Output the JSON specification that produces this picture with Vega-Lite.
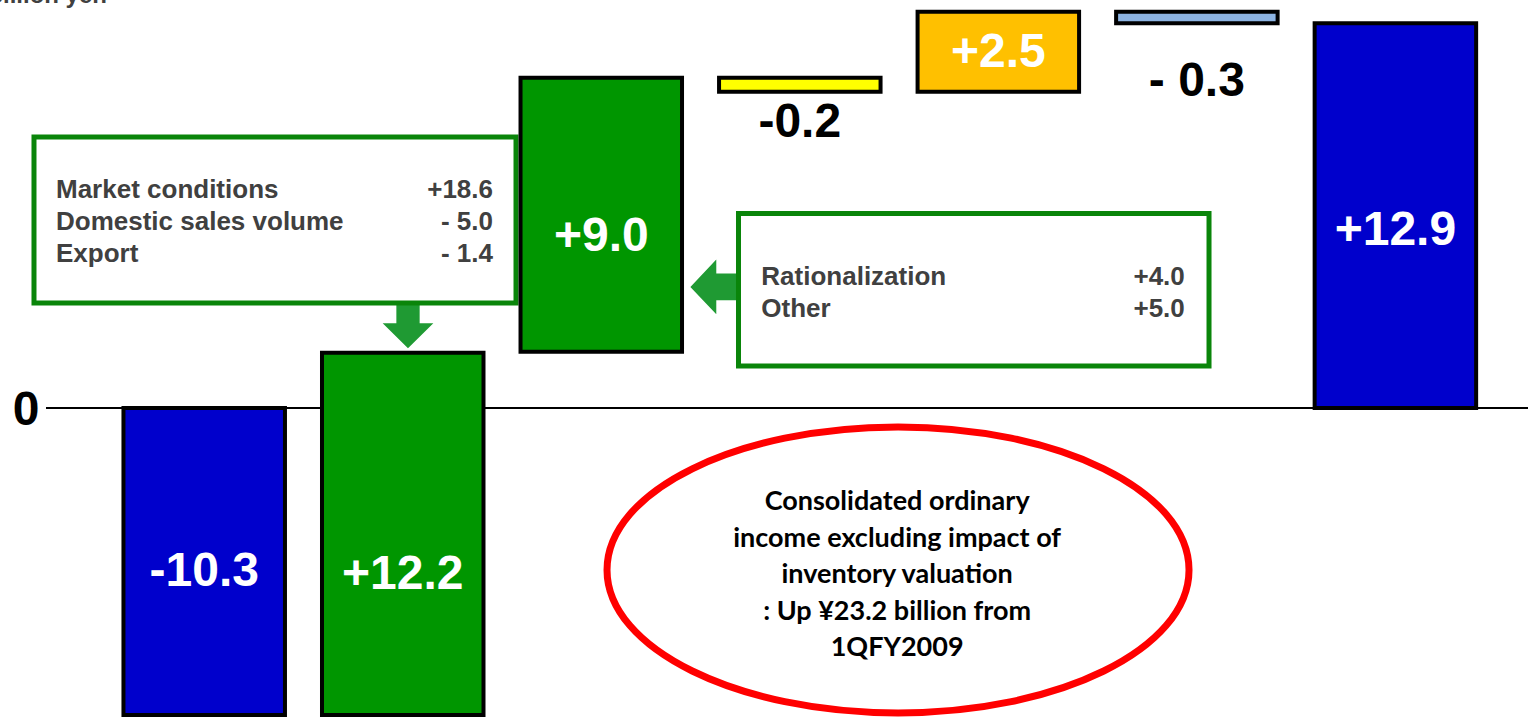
{
  "$schema": "https://vega.github.io/schema/vega-lite/v6.json",
  "width": 1482,
  "height": 718,
  "autosize": {"type": "none"},
  "padding": {"left": 46, "top": 0, "right": 0, "bottom": 0},
  "background": "white",
  "config": {"view": {"stroke": null}},
  "datasets": {
    "bars": [
      {"item": "1QFY2009", "group": "total", "start": 0, "end": -10.3, "label": "-10.3", "labelAt": -5.4},
      {"item": "Market conditions", "group": "margin", "start": -10.3, "end": 1.85, "label": "+12.2", "labelAt": -5.52},
      {"item": "Cost reduction", "group": "margin", "start": 1.88, "end": 11.07, "label": "+9.0", "labelAt": 5.83},
      {"item": "Petrochemicals", "group": "petrochemical", "start": 11.07, "end": 10.6, "label": "-0.2", "labelAt": 9.64},
      {"item": "Oil exploration", "group": "exploration", "start": 10.6, "end": 13.29, "label": "+2.5", "labelAt": 12.0},
      {"item": "Other", "group": "other", "start": 13.29, "end": 12.9, "label": "- 0.3", "labelAt": 11.03},
      {"item": "1QFY2010", "group": "total", "start": 0, "end": 12.9, "label": "+12.9", "labelAt": 6.04}
    ],
    "boxes": [
      {"u1": 0.1424, "u2": 2.5703, "v1": 9.088, "v2": 3.521},
      {"u1": 3.691, "u2": 6.061, "v1": 6.523, "v2": 1.408}
    ],
    "arrows": [
      {"dir": "down", "u": 2.0263, "v": 2.75},
      {"dir": "left", "u": 3.57, "v": 4.058}
    ],
    "callout": [{"u": 4.4945, "v": -5.433}],
    "notesLeft": [
      {"t": "Market conditions", "u": 0.2533, "v": 7.042},
      {"t": "Domestic sales volume", "u": 0.2533, "v": 5.969},
      {"t": "Export", "u": 0.2533, "v": 4.896},
      {"t": "Rationalization", "u": 3.806, "v": 4.131},
      {"t": "Other", "u": 3.806, "v": 3.052}
    ],
    "notesRight": [
      {"t": "+18.6", "u": 2.4544, "v": 7.042},
      {"t": "- 5.0", "u": 2.4544, "v": 5.969},
      {"t": "- 1.4", "u": 2.4544, "v": 4.896},
      {"t": "+4.0", "u": 5.939, "v": 4.131},
      {"t": "+5.0", "u": 5.939, "v": 3.052}
    ],
    "calloutText": [
      {"t": "Consolidated ordinary", "u": 4.49, "v": -3.421},
      {"t": "income excluding impact of", "u": 4.49, "v": -4.651},
      {"t": "inventory valuation", "u": 4.49, "v": -5.879},
      {"t": ": Up ¥23.2 billion from", "u": 4.49, "v": -7.109},
      {"t": "1QFY2009", "u": 4.49, "v": -8.307}
    ],
    "unit": [{"t": "Billion yen", "u": 0.5101, "v": 13.58}],
    "zeroLabel": [{"t": "0", "u": 0.1021, "v": 0}]
  },
  "layer": [
    {
      "layer": [
        {
          "data": {"values": [{}]},
          "mark": {"type": "rule", "color": "black", "strokeWidth": 2},
          "encoding": {
            "y": {"datum": 0, "type": "quantitative", "scale": {"domain": [-10.4, 13.68], "nice": false, "zero": false}, "axis": null}
          }
        },
        {
          "data": {"name": "zeroLabel"},
          "mark": {"type": "text", "align": "center", "baseline": "middle", "dy": 3, "font": "Liberation Sans", "fontSize": 48, "fontWeight": "bold", "color": "black"},
          "encoding": {
            "x": {"field": "u", "type": "quantitative", "scale": {"domain": [0.2029, 7.6677], "nice": false, "zero": false}, "axis": null},
            "y": {"field": "v", "type": "quantitative", "scale": {"domain": [-10.4, 13.68], "nice": false, "zero": false}, "axis": null},
            "text": {"field": "t"}
          }
        },
        {
          "data": {"name": "arrows"},
          "mark": {"type": "point", "filled": true, "color": "#1F9A33", "opacity": 1, "size": 3000, "strokeWidth": 0},
          "encoding": {
            "x": {"field": "u", "type": "quantitative", "scale": {"domain": [0.2029, 7.6677], "nice": false, "zero": false}, "axis": null},
            "y": {"field": "v", "type": "quantitative", "scale": {"domain": [-10.4, 13.68], "nice": false, "zero": false}, "axis": null},
            "shape": {"field": "dir", "type": "nominal", "legend": null,
                      "scale": {"domain": ["down", "left"],
                                "range": ["M-0.425,-0.84L0.425,-0.84L0.425,-0.1L0.925,-0.1L0,0.814L-0.925,-0.1L-0.425,-0.1Z",
                                          "M-0.88,0L0.066,-1L0.066,-0.487L0.876,-0.487L0.876,0.487L0.066,0.487L0.066,1Z"]}}
          }
        },
        {
          "data": {"name": "boxes"},
          "mark": {"type": "rect", "fill": "white", "stroke": "#0A850A", "strokeWidth": 5},
          "encoding": {
            "x": {"field": "u1", "type": "quantitative", "scale": {"domain": [0.2029, 7.6677], "nice": false, "zero": false}, "axis": null},
            "x2": {"field": "u2"},
            "y": {"field": "v1", "type": "quantitative", "scale": {"domain": [-10.4, 13.68], "nice": false, "zero": false}, "axis": null},
            "y2": {"field": "v2"}
          }
        },
        {
          "data": {"name": "callout"},
          "mark": {"type": "point", "filled": true, "color": "white", "stroke": "#FF0000", "strokeWidth": 7, "opacity": 1,
                   "size": 338724,
                   "shape": "M-1,0C-1,-0.2714,-0.5523,-0.4914,0,-0.4914C0.5523,-0.4914,1,-0.2714,1,0C1,0.2714,0.5523,0.4914,0,0.4914C-0.5523,0.4914,-1,0.2714,-1,0Z"},
          "encoding": {
            "x": {"field": "u", "type": "quantitative", "scale": {"domain": [0.2029, 7.6677], "nice": false, "zero": false}, "axis": null},
            "y": {"field": "v", "type": "quantitative", "scale": {"domain": [-10.4, 13.68], "nice": false, "zero": false}, "axis": null}
          }
        },
        {
          "data": {"name": "notesLeft"},
          "mark": {"type": "text", "align": "left", "baseline": "alphabetic", "font": "Liberation Sans", "fontSize": 26, "fontWeight": "bold", "color": "#404040"},
          "encoding": {
            "x": {"field": "u", "type": "quantitative", "scale": {"domain": [0.2029, 7.6677], "nice": false, "zero": false}, "axis": null},
            "y": {"field": "v", "type": "quantitative", "scale": {"domain": [-10.4, 13.68], "nice": false, "zero": false}, "axis": null},
            "text": {"field": "t"}
          }
        },
        {
          "data": {"name": "notesRight"},
          "mark": {"type": "text", "align": "right", "baseline": "alphabetic", "font": "Liberation Sans", "fontSize": 26, "fontWeight": "bold", "color": "#404040"},
          "encoding": {
            "x": {"field": "u", "type": "quantitative", "scale": {"domain": [0.2029, 7.6677], "nice": false, "zero": false}, "axis": null},
            "y": {"field": "v", "type": "quantitative", "scale": {"domain": [-10.4, 13.68], "nice": false, "zero": false}, "axis": null},
            "text": {"field": "t"}
          }
        },
        {
          "data": {"name": "calloutText"},
          "mark": {"type": "text", "align": "center", "baseline": "alphabetic", "font": "Lato", "fontSize": 27, "fontWeight": "bold", "color": "black"},
          "encoding": {
            "x": {"field": "u", "type": "quantitative", "scale": {"domain": [0.2029, 7.6677], "nice": false, "zero": false}, "axis": null},
            "y": {"field": "v", "type": "quantitative", "scale": {"domain": [-10.4, 13.68], "nice": false, "zero": false}, "axis": null},
            "text": {"field": "t"}
          }
        },
        {
          "data": {"name": "unit"},
          "mark": {"type": "text", "align": "right", "baseline": "alphabetic", "font": "Liberation Sans", "fontSize": 24, "fontWeight": "bold", "color": "#404040"},
          "encoding": {
            "x": {"field": "u", "type": "quantitative", "scale": {"domain": [0.2029, 7.6677], "nice": false, "zero": false}, "axis": null},
            "y": {"field": "v", "type": "quantitative", "scale": {"domain": [-10.4, 13.68], "nice": false, "zero": false}, "axis": null},
            "text": {"field": "t"}
          }
        }
      ]
    },
    {
      "layer": [
        {
          "data": {"name": "bars"},
          "mark": {"type": "bar", "stroke": "black", "strokeWidth": 4, "opacity": 1},
          "encoding": {
            "x": {"field": "item", "type": "nominal", "sort": null, "axis": null,
                  "scale": {"type": "band", "paddingInner": 0.1865, "paddingOuter": 0.3257, "align": 0.599, "round": false}},
            "y": {"field": "start", "type": "quantitative", "scale": {"domain": [-10.4, 13.68], "nice": false, "zero": false}, "axis": null},
            "y2": {"field": "end"},
            "color": {"field": "group", "type": "nominal", "legend": null,
                      "scale": {"domain": ["total", "margin", "petrochemical", "exploration", "other"],
                                "range": ["#0000CC", "#009600", "#FFFF00", "#FFC000", "#8DB4E2"]}}
          }
        },
        {
          "data": {"name": "bars"},
          "mark": {"type": "text", "align": "center", "baseline": "middle", "dy": 3, "font": "Liberation Sans", "fontSize": 48, "fontWeight": "bold"},
          "encoding": {
            "x": {"field": "item", "type": "nominal", "sort": null, "axis": null,
                  "scale": {"type": "band", "paddingInner": 0.1865, "paddingOuter": 0.3257, "align": 0.599, "round": false}},
            "y": {"field": "labelAt", "type": "quantitative", "scale": {"domain": [-10.4, 13.68], "nice": false, "zero": false}, "axis": null},
            "text": {"field": "label"},
            "color": {"condition": {"test": "datum.group === 'petrochemical' || datum.group === 'other'", "value": "black"}, "value": "white"}
          }
        }
      ]
    }
  ],
  "resolve": {"scale": {"x": "independent"}}
}
